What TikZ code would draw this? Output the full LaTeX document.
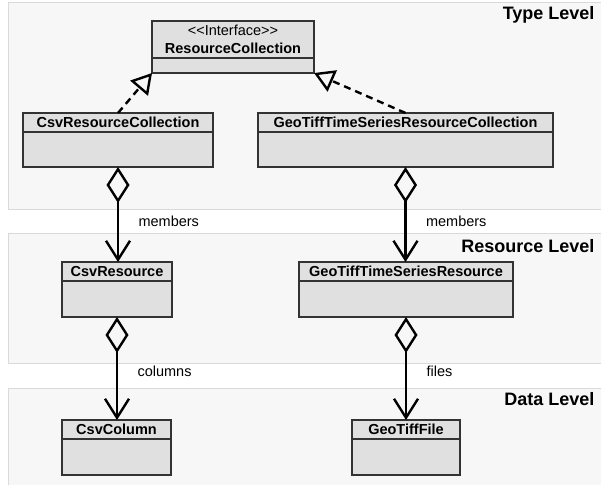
\documentclass[tikz,border=0pt]{standalone}
\usepackage{fontspec}
\setmainfont{Liberation Sans}
\usetikzlibrary{positioning,arrows.meta}
\definecolor{boxgray}{HTML}{E0E0E0}
\definecolor{panelgray}{HTML}{F7F7F7}
\definecolor{panelline}{HTML}{D9D9D9}

\begin{document}
\begin{tikzpicture}[
    x=1pt, y=-1pt,
    panel/.style={draw=panelline, fill=panelgray, line width=1pt},
    classhead/.style={rectangle, draw=black!80, fill=boxgray, line width=1.2pt, inner sep=0pt, outer sep=0pt, minimum height=19pt, anchor=north west, font=\fontsize{14.5}{17}\selectfont\bfseries},
    classbody/.style={rectangle, draw=black!80, fill=boxgray, line width=1.2pt, inner sep=0pt, outer sep=0pt, minimum height=35pt},
    level/.style={anchor=base east, font=\fontsize{18}{21}\selectfont\bfseries},
    role/.style={anchor=base west, xshift=16pt, font=\fontsize{14.5}{17}\selectfont},
    realize/.style={-{Triangle[open, length=20pt, width=23pt]}, line width=2.4pt, dash pattern=on 7pt off 5pt},
    aggr/.style={{Diamond[open, length=36pt, width=23pt]}-{Straight Barb[length=19pt, width=24pt]}, line width=2.4pt}
]
\useasboundingbox (0,0) rectangle (601,484);

% Level panels
\draw[panel] (8,3) rectangle (603,209);
\draw[panel] (8,233) rectangle (603,363);
\draw[panel] (8,388) rectangle (603,490);
\node[level] (typelevel) at (598,20) {Type Level};
\node[level] (reslevel) at (598,252) {Resource Level};
\node[level] (datalevel) at (598,405) {Data Level};

% Type level
\node[classhead, minimum width=162pt, minimum height=37pt, align=center] (rcH) at (152,21) {{\mdseries <{}<Interface>{}>}\\[1pt]ResourceCollection};
\node[classbody, minimum width=162pt, minimum height=15pt, below=0pt of rcH] (rc) {};
\node[classhead, minimum width=190pt] (csvcollH) at (23,113) {CsvResourceCollection};
\node[classbody, minimum width=190pt, below=0pt of csvcollH] (csvcoll) {};
\node[classhead, minimum width=295pt] (geocollH) at (258,113) {GeoTiffTimeSeriesResourceCollection};
\node[classbody, minimum width=295pt, below=0pt of geocollH] (geocoll) {};

% Resource level
\node[classhead, minimum width=110pt] (csvresH) at (62,262) {CsvResource};
\node[classbody, minimum width=110pt, minimum height=36pt, below=0pt of csvresH] (csvres) {};
\node[classhead, minimum width=214pt] (georesH) at (299,262) {GeoTiffTimeSeriesResource};
\node[classbody, minimum width=214pt, minimum height=36pt, below=0pt of georesH] (geores) {};

% Data level
\node[classhead, minimum width=109pt] (csvcolH) at (62,420) {CsvColumn};
\node[classbody, minimum width=109pt, minimum height=36pt, below=0pt of csvcolH] (csvcol) {};
\node[classhead, minimum width=108pt] (geofileH) at (352,420) {GeoTiffFile};
\node[classbody, minimum width=108pt, minimum height=36pt, below=0pt of geofileH] (geofile) {};

% Realizations
\draw[realize] (csvcollH.north) -- (rc.south west);
\draw[realize] (geocollH.north) -- (rc.south east);

% Aggregations
\draw[aggr] (csvcoll.south) -- node[role, pos=0.625] {members} (csvcoll.south |- csvresH.north);
\draw[aggr] (geocoll.south) -- node[role, pos=0.625] {members} (geocoll.south |- georesH.north);
\draw[aggr] (csvres.south) -- node[role, pos=0.58] {columns} (csvres.south |- csvcolH.north);
\draw[aggr] (geores.south) -- node[role, pos=0.58] {files} (geores.south |- geofileH.north);

\end{tikzpicture}
\end{document}
